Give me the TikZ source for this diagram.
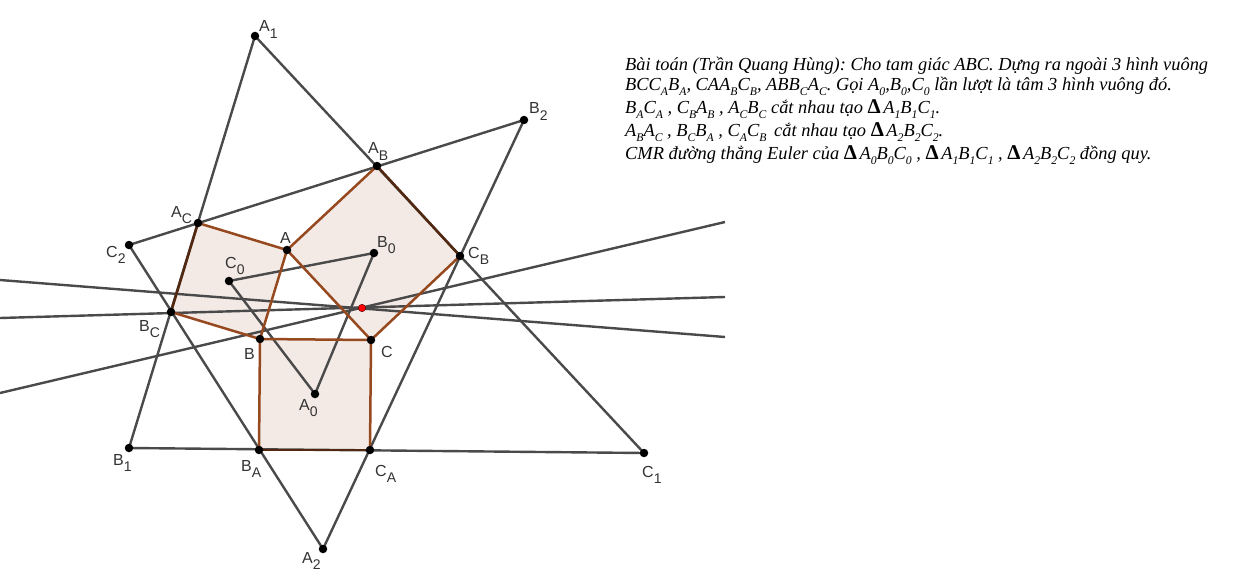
\documentclass[tikz,border=0pt]{standalone}
\usepackage{fontspec}
\setmainfont{Liberation Serif}
\newfontfamily\labfont{Liberation Sans}
\frenchspacing
\definecolor{sqfill}{HTML}{F3EAE6}
\definecolor{sqline}{HTML}{96481E}
\definecolor{gline}{HTML}{4A4A4A}
\definecolor{lbl}{HTML}{333333}
\newcommand{\sbs}[1]{\raisebox{-0.42em}{\fontsize{14}{14}\selectfont #1}}
\newcommand{\ts}[1]{\raisebox{-0.25em}{\fontsize{11.7}{11.7}\selectfont #1}}
\newcommand{\tri}{{\upshape\bfseries\fontsize{21}{20}\selectfont Δ\kern2.5pt}}
\tikzset{
  x=1pt,y=-1pt,
  pt/.style={circle,fill=black,inner sep=0pt,minimum size=8.5pt},
  redpt/.style={circle,fill=red,draw=black!70!red,line width=.4pt,inner sep=0pt,minimum size=7.5pt},
  lab/.style={font=\labfont\fontsize{16}{16}\selectfont,text=lbl,inner sep=0pt,anchor=base west},
  sq/.style={fill=sqfill,draw=none},
  sqedge/.style={draw=sqline,line width=2.5pt},
  sqouter/.style={draw=sqline!55!black,line width=2.5pt},
  gedge/.style={draw=gline,line width=2.4pt},
  txt/.style={font=\itshape\fontsize{18.4}{20}\selectfont,inner sep=0pt,anchor=base west,text=black}
}
\begin{document}
\begin{tikzpicture}
\useasboundingbox (0,0) rectangle (1246,588);
\fill[white] (0,0) rectangle (1246,588);
% Points
\coordinate (a) at (287,250);
\coordinate (b) at (260,339);
\coordinate (c) at (371,340);
\coordinate (ab) at (377,166);
\coordinate (cb) at (460,256);
\coordinate (ac) at (198,223);
\coordinate (bc) at (171,312);
\coordinate (ba) at (259,450);
\coordinate (ca) at (370,450);
\coordinate (a1) at (255,36);
\coordinate (b1) at (129,448);
\coordinate (c1) at (644,453);
\coordinate (a2) at (323,549);
\coordinate (b2) at (524,120);
\coordinate (c2) at (129,245);
\coordinate (a0) at (315,394);
\coordinate (b0) at (374,253);
\coordinate (c0) at (229,281);
\coordinate (e1l) at (0,280);
\coordinate (e1r) at (725,337);
\coordinate (e2l) at (0,318);
\coordinate (e2r) at (725,297);
\coordinate (e3l) at (0,393);
\coordinate (e3r) at (725,222);
\coordinate (r) at (362,308);
% Squares
\path[sq] (b) -- (c) -- (ca) -- (ba) -- cycle;
\path[sq] (c) -- (a) -- (ab) -- (cb) -- cycle;
\path[sq] (a) -- (b) -- (bc) -- (ac) -- cycle;
% Grey lines
\draw[gedge] (a1) -- (b1);
\draw[gedge] (a1) -- (c1);
\draw[gedge] (b1) -- (c1);
\draw[gedge] (a2) -- (b2);
\draw[gedge] (a2) -- (c2);
\draw[gedge] (b2) -- (c2);
\draw[gedge] (a0) -- (b0);
\draw[gedge] (b0) -- (c0);
\draw[gedge] (c0) -- (a0);
\draw[gedge] (e1l) -- (e1r);
\draw[gedge] (e2l) -- (e2r);
\draw[gedge] (e3l) -- (e3r);
% Square edges
\draw[sqedge] (a) -- (b);
\draw[sqedge] (b) -- (c);
\draw[sqedge] (c) -- (a);
\draw[sqedge] (b) -- (ba);
\draw[sqedge] (c) -- (ca);
\draw[sqedge] (a) -- (ab);
\draw[sqedge] (c) -- (cb);
\draw[sqedge] (a) -- (ac);
\draw[sqedge] (b) -- (bc);
\draw[sqouter] (ab) -- (cb);
\draw[sqouter] (ac) -- (bc);
\draw[sqouter] (ba) -- (ca);
% Dots
\foreach \p/\n in {a/na,b/nb,c/nc,ab/nab,cb/ncb,ac/nac,bc/nbc,ba/nba,ca/nca,a1/na1,b1/nb1,c1/nc1,a2/na2,b2/nb2,c2/nc2,a0/na0,b0/nb0,c0/nc0}
  \node[pt] (\n) at (\p) {};
\node[redpt] (nr) at (r) {};
% Labels
\node[lab] (la1) at (259,32) {A\sbs{1}};
\node[lab] (lb1) at (113,465) {B\sbs{1}};
\node[lab] (lc1) at (642,477) {C\sbs{1}};
\node[lab] (la2) at (302,563) {A\sbs{2}};
\node[lab] (lb2) at (529,114) {B\sbs{2}};
\node[lab] (lc2) at (106,257) {C\sbs{2}};
\node[lab] (la0) at (299,410) {A\sbs{0}};
\node[lab] (lb0) at (377,247) {B\sbs{0}};
\node[lab] (lc0) at (225,268) {C\sbs{0}};
\node[lab] (la) at (280,243) {A};
\node[lab] (lb) at (244,359) {B};
\node[lab] (lc) at (381,357) {C};
\node[lab] (lab) at (368,154) {A\sbs{B}};
\node[lab] (lcb) at (468,258) {C\sbs{B}};
\node[lab] (lac) at (171,217) {A\sbs{C}};
\node[lab] (lbc) at (139,331) {B\sbs{C}};
\node[lab] (lba) at (241,471) {B\sbs{A}};
\node[lab] (lca) at (375,476) {C\sbs{A}};
% Text
\node[txt] (t1) at (625,71) {Bài toán (Trần Quang Hùng): Cho tam giác ABC. Dựng ra ngoài 3 hình vuông};
\node[txt] (t2) at (625,91) {BCC\ts{A}B\ts{A}, CAA\ts{B}C\ts{B}, ABB\ts{C}A\ts{C}. Gọi A\ts{0},B\ts{0},C\ts{0} lần lượt là tâm 3 hình vuông đó.};
\node[txt] (t3) at (625,114) {B\ts{A}C\ts{A} , C\ts{B}A\ts{B} , A\ts{C}B\ts{C} cắt nhau tạo \tri A\ts{1}B\ts{1}C\ts{1}.};
\node[txt] (t4) at (625,137) {A\ts{B}A\ts{C} , B\ts{C}B\ts{A} , C\ts{A}C\ts{B}\, cắt nhau tạo \tri A\ts{2}B\ts{2}C\ts{2}.};
\node[txt] (t5) at (625,160) {CMR đường thẳng Euler của \tri A\ts{0}B\ts{0}C\ts{0} , \tri A\ts{1}B\ts{1}C\ts{1} , \tri A\ts{2}B\ts{2}C\ts{2} đồng quy.};
\end{tikzpicture}
\end{document}
